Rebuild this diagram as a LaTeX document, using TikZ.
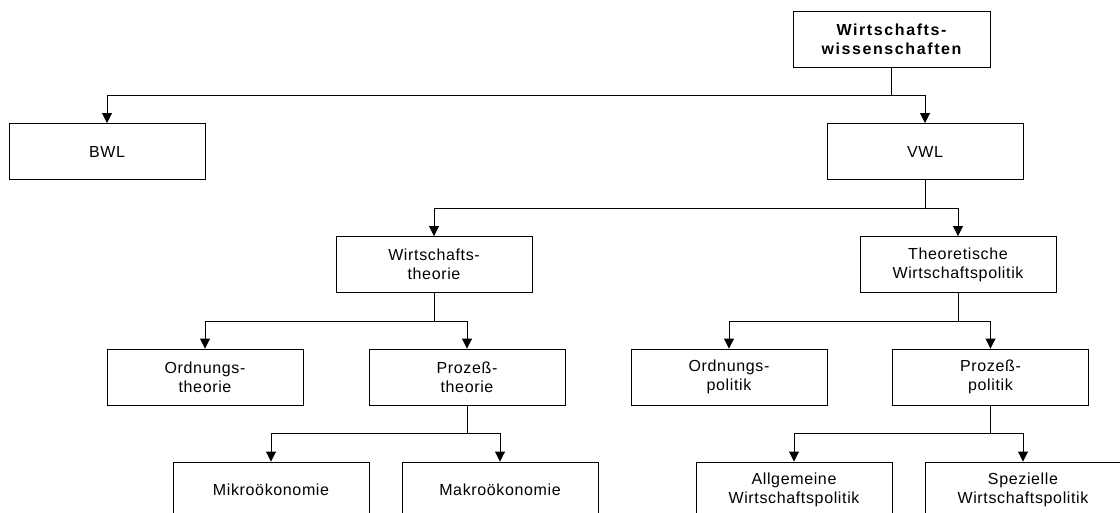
\documentclass[tikz,border=0pt]{standalone}
\usepackage{fontspec}
\setmainfont{Liberation Sans}
\usetikzlibrary{arrows.meta}
\begin{document}
\begin{tikzpicture}[x=1pt,y=-1pt,
  box/.style={draw=black, line width=0.9pt, minimum width=196pt, minimum height=56pt,
    inner sep=0pt, align=center, font=\addfontfeature{LetterSpace=4}\fontsize{16}{19}\selectfont},
  topbox/.style={box, minimum width=197pt, font=\addfontfeature{LetterSpace=10}\fontsize{16}{19}\selectfont\bfseries},
  arr/.style={draw=black, line width=0.9pt, -{Triangle[length=10pt,width=10pt]}}]
\useasboundingbox (0,0) rectangle (1120,513);
\clip (0,0) rectangle (1120,513);
\coordinate (bus1) at (0,95);
\coordinate (bus2) at (0,208);
\coordinate (bus3) at (0,321);
\coordinate (bus4) at (0,433);
\node[topbox] (top) at (891.5,39) {Wirtschafts-\\wissenschaften};
\node[box] (bwl) at (107,151.5) {BWL};
\node[box] (vwl) at (925,151.5) {VWL};
\node[box] (wt) at (434,264.5) {Wirtschafts-\\theorie};
\node[box] (tw) at (958,264.5) {Theoretische\\Wirtschaftspolitik};
\node[box] (ot) at (205,377) {Ordnungs-\\theorie};
\node[box] (pt) at (467,377) {Prozeß-\\theorie};
\node[box] (op) at (729,377) {Ordnungs-\\politik};
\node[box] (pp) at (990.5,377) {Prozeß-\\politik};
\node[box] (mi) at (271,490) {Mikroökonomie};
\node[box] (ma) at (500,490) {Makroökonomie};
\node[box] (al) at (794,490) {Allgemeine\\Wirtschaftspolitik};
\node[box] (sp) at (1023,490) {Spezielle\\Wirtschaftspolitik};
\draw[arr] (top.south) -- (top.south |- bus1) -| (bwl.north);
\draw[arr] (top.south) -- (top.south |- bus1) -| (vwl.north);
\draw[arr] (vwl.south) -- (vwl.south |- bus2) -| (wt.north);
\draw[arr] (vwl.south) -- (vwl.south |- bus2) -| (tw.north);
\draw[arr] (wt.south) -- (wt.south |- bus3) -| (ot.north);
\draw[arr] (wt.south) -- (wt.south |- bus3) -| (pt.north);
\draw[arr] (tw.south) -- (tw.south |- bus3) -| (op.north);
\draw[arr] (tw.south) -- (tw.south |- bus3) -| (pp.north);
\draw[arr] (pt.south) -- (pt.south |- bus4) -| (mi.north);
\draw[arr] (pt.south) -- (pt.south |- bus4) -| (ma.north);
\draw[arr] (pp.south) -- (pp.south |- bus4) -| (al.north);
\draw[arr] (pp.south) -- (pp.south |- bus4) -| (sp.north);
\end{tikzpicture}
\end{document}
